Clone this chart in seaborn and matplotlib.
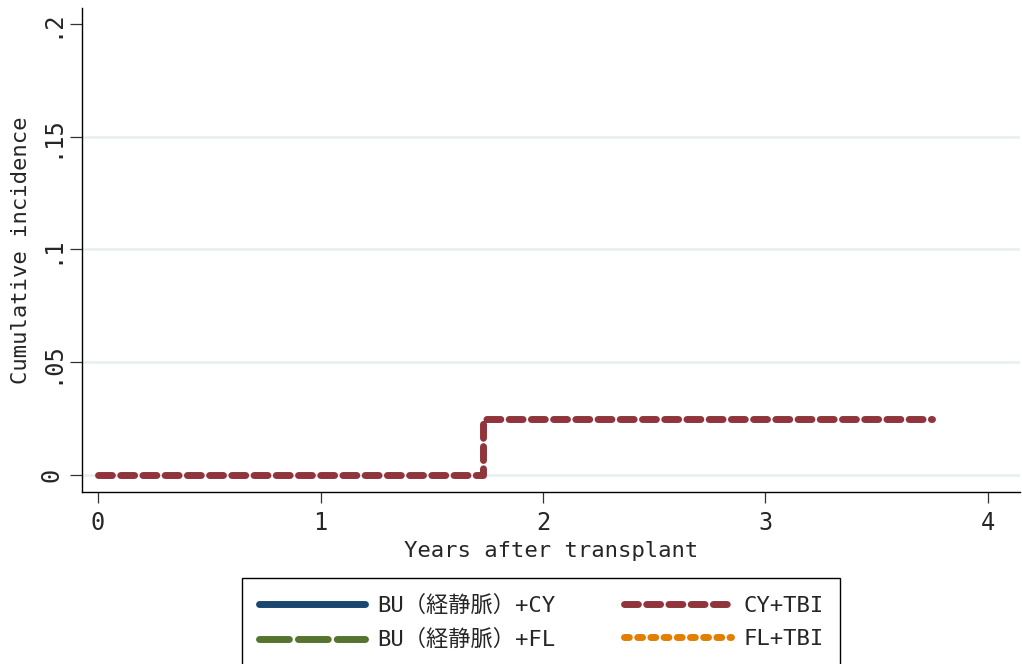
import numpy as np
import pandas as pd
import matplotlib
matplotlib.use('Agg')
import matplotlib.pyplot as plt
import seaborn as sns

# Series (years after transplant, cumulative incidence)
series_names = ['BU（経静脈）+CY', 'BU（経静脈）+FL', 'CY+TBI', 'FL+TBI']
bu_cy_t, bu_cy_y = [], []
bu_fl_t, bu_fl_y = [], []
cy_tbi_t = [0.0, 1.73, 3.75]
cy_tbi_y = [0.0, 0.025, 0.025]
fl_tbi_t, fl_tbi_y = [], []

x_ticks = [0, 1, 2, 3, 4]
y_ticks = [0, 0.05, 0.1, 0.15, 0.2]
y_ticklabels = ['0', '.05', '.1', '.15', '.2']

colors = ['#1a476f', '#55752f', '#90353b', '#e37e00']
dash_styles = [None, (4.3, 1.3), (2.0, 1.2), (0.7, 1.2)]

sns.set_theme(style='white')
plt.rcParams['font.family'] = ['DejaVu Sans Mono', 'Noto Sans CJK JP']

fig = plt.figure(figsize=(10.22, 6.64), dpi=100)
ax = fig.add_axes([82 / 1022, 1 - 492 / 664, (1020 - 82) / 1022, (492 - 8) / 664])

data = [(bu_cy_t, bu_cy_y), (bu_fl_t, bu_fl_y), (cy_tbi_t, cy_tbi_y), (fl_tbi_t, fl_tbi_y)]
for name, (t, y), c, d in zip(series_names, data, colors, dash_styles):
    if len(t) > 0:
        df = pd.DataFrame({'t': t, 'y': y})
        sns.lineplot(data=df, x='t', y='y', ax=ax, color=c, lw=5,
                     drawstyle='steps-post', label=name, zorder=3)
    else:
        ax.plot([], [], color=c, lw=5, label=name)
    line = ax.lines[-1]
    line.set_solid_capstyle('round')
    line.set_dash_capstyle('round')
    if d is not None:
        line.set_dashes(d)

if ax.get_legend() is not None:
    ax.get_legend().remove()

ax.set_xlim(-0.072, 4.144)
ax.set_ylim(-0.0075, 0.207)
ax.set_xticks(x_ticks)
ax.set_xticklabels([str(v) for v in x_ticks], fontsize=17)
ax.set_yticks(y_ticks)
ax.set_yticklabels(y_ticklabels, fontsize=17, rotation=90, va='center')

for v in y_ticks[:-1]:
    ax.axhline(v, color='#e6eff1', lw=1.8, zorder=1)

for side in ['top', 'right']:
    ax.spines[side].set_visible(False)
for side in ['left', 'bottom']:
    ax.spines[side].set_color('black')
    ax.spines[side].set_linewidth(1.0)

ax.tick_params(axis='x', direction='out', length=8, width=0.9, color='#333333',
               bottom=True, pad=6)
ax.tick_params(axis='y', direction='out', length=8.5, width=0.9, color='#333333',
               left=True, pad=5)

ax.set_xlabel('Years after transplant', fontsize=16, labelpad=4)
ax.set_ylabel('Cumulative incidence', fontsize=16, labelpad=6)

handles, labels = ax.get_legend_handles_labels()
leg = fig.legend(handles, labels, ncol=2, loc='upper left',
                 bbox_to_anchor=(242 / 1022, 1 - 578 / 664), fontsize=16,
                 frameon=True, fancybox=False, edgecolor='black', framealpha=1,
                 handlelength=4.8, handletextpad=0.54, columnspacing=3.1,
                 labelspacing=0.6, borderpad=0.75, borderaxespad=0)
leg.get_frame().set_linewidth(1.0)

fig.savefig('out.png', dpi=100)
